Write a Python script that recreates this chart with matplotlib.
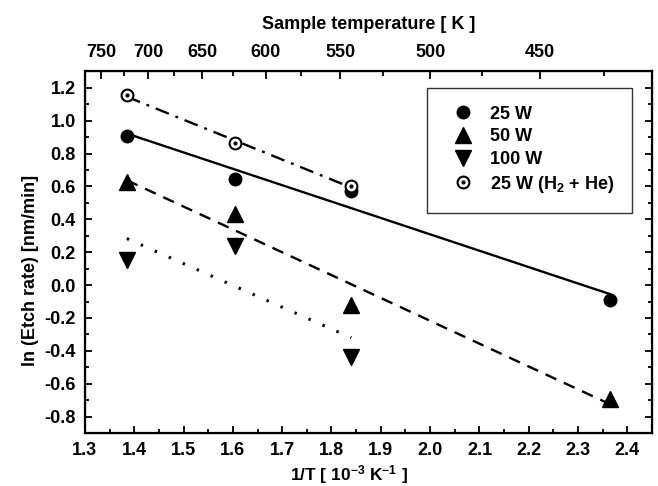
import numpy as np
import matplotlib
matplotlib.use('Agg')
import matplotlib.pyplot as plt
from matplotlib.ticker import MultipleLocator, FixedLocator, FormatStrFormatter

plt.rcParams['font.family'] = ['Liberation Sans', 'DejaVu Sans']
plt.rcParams['font.weight'] = 'bold'
plt.rcParams['axes.labelweight'] = 'bold'
plt.rcParams['font.size'] = 13
plt.rcParams['axes.unicode_minus'] = False
plt.rcParams['mathtext.fontset'] = 'custom'
plt.rcParams['mathtext.rm'] = 'Liberation Sans:bold'
plt.rcParams['mathtext.bf'] = 'Liberation Sans:bold'
plt.rcParams['mathtext.default'] = 'bf'

# -------------------------------
# data
# -------------------------------
inv_t = [1.385, 1.605, 1.84, 2.365]          # 1/T [10^-3 K^-1]
inv_t_short = [1.385, 1.605, 1.84]

w25 = [0.91, 0.648, 0.57, -0.09]
w50 = [0.625, 0.435, -0.12, -0.69]
w100 = [0.155, 0.24, -0.44]
w25_h2he = [1.155, 0.862, 0.602]

temp_major = [750, 700, 650, 600, 550, 500, 450]
temp_minor = [725, 675, 625, 575, 525, 475, 425]

fig = plt.figure(figsize=(6.58, 4.86), dpi=100)
ax = fig.add_axes([0.129, 0.109, 0.862, 0.744])


def fit_line(x, y, **kw):
    p = np.polyfit(x, y, 1)
    xx = np.array([min(x), max(x)])
    ax.plot(xx, np.polyval(p, xx), color='black', **kw)


# fit lines (Arrhenius)
fit_line(inv_t, w25, lw=1.7, linestyle='-')
fit_line(inv_t, w50, lw=1.7, dashes=(5, 3.5))
fit_line(inv_t_short, w100, lw=2.2, dashes=(0.8, 4.2))
fit_line(inv_t_short, w25_h2he, lw=1.7, dashes=(6, 3, 1.2, 3))

# markers
h1, = ax.plot(inv_t, w25, 'o', color='black', ms=9, linestyle='none')
h2, = ax.plot(inv_t, w50, '^', color='black', ms=11, linestyle='none')
h3, = ax.plot(inv_t_short, w100, 'v', color='black', ms=11, linestyle='none')
h4a, = ax.plot(inv_t_short, w25_h2he, 'o', mfc='white', mec='black',
               mew=1.5, ms=8.5, linestyle='none')
h4b, = ax.plot(inv_t_short, w25_h2he, 'o', color='black', ms=2,
               linestyle='none')

ax.set_xlim(1.3, 2.45)
ax.set_ylim(-0.9, 1.3)
ax.xaxis.set_major_locator(MultipleLocator(0.1))
ax.xaxis.set_minor_locator(MultipleLocator(0.05))
ax.yaxis.set_major_locator(MultipleLocator(0.2))
ax.yaxis.set_minor_locator(MultipleLocator(0.1))
ax.xaxis.set_major_formatter(FormatStrFormatter('%.1f'))
ax.yaxis.set_major_formatter(FormatStrFormatter('%.1f'))

ax.tick_params(which='both', direction='in', width=1.3, top=False,
               right=True, labelsize=13, pad=6.5)
ax.tick_params(which='major', length=5)
ax.tick_params(which='minor', length=3)
for sp in ax.spines.values():
    sp.set_linewidth(1.6)

ax.set_xlabel('1/T [ 10$^{-3}$ K$^{-1}$ ]', fontsize=12.5, labelpad=3)
ax.set_ylabel('ln (Etch rate) [nm/min]', fontsize=13, labelpad=4)
ax.xaxis.label.set_x(0.465)
ax.yaxis.label.set_y(0.45)

# top axis: sample temperature
ax2 = ax.twiny()
ax2.set_xlim(ax.get_xlim())
ax2.xaxis.set_major_locator(FixedLocator([1000.0 / t for t in temp_major]))
ax2.xaxis.set_minor_locator(FixedLocator([1000.0 / t for t in temp_minor]))
ax2.set_xticklabels([str(t) for t in temp_major])
ax2.tick_params(which='both', direction='in', width=1.3, labelsize=13,
                pad=7.5)
ax2.tick_params(which='major', length=5.5)
ax2.tick_params(which='minor', length=3.5)
ax2.set_xlabel('Sample temperature [ K ]', fontsize=13, labelpad=11)

leg = ax.legend([h1, h2, h3, (h4a, h4b)],
                ['25 W', '50 W', '100 W', '25 W (H$_2$ + He)'],
                loc='upper right', bbox_to_anchor=(0.965, 0.955),
                frameon=True, fancybox=False, edgecolor='black',
                handlelength=2.0, handletextpad=0.5, labelspacing=0.31,
                borderpad=1.0, borderaxespad=0.0, fontsize=13)
leg.get_frame().set_linewidth(1.0)

plt.savefig('out.png', dpi=100)
